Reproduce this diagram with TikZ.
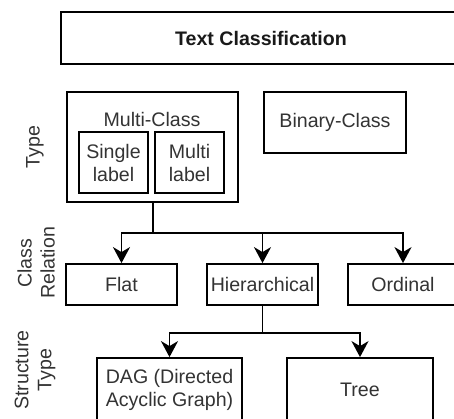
\documentclass[tikz,border=0pt]{standalone}
\usepackage{fontspec}
\setmainfont{Liberation Sans}
\usetikzlibrary{arrows.meta}
\definecolor{txt}{HTML}{333333}
\tikzset{
  box/.style={draw=black, line width=1.8pt, inner sep=0pt, text=txt, align=center,
    font=\fontsize{19.6}{23}\selectfont},
  lab/.style={text=txt, align=center, rotate=90, inner sep=0pt,
    font=\fontsize{19.6}{23}\selectfont},
  conn/.style={line width=1.8pt, draw=black},
  arr/.style={conn, -{Stealth[length=16pt,width=17pt,inset=5pt]}}
}
\begin{document}
\begin{tikzpicture}[x=1pt,y=-1pt]
\useasboundingbox (0,0) rectangle (454,418);
% title
\node[box, minimum width=400pt, minimum height=52pt, font=\fontsize{19.6}{23}\selectfont\bfseries, text=black!90] (tc) at (261,38) {Text Classification};
% type row
\node[box, minimum width=171pt, minimum height=110pt] (mc) at (152.5,147) {};
\node[text=txt, font=\fontsize{19.6}{23}\selectfont, inner sep=0pt] (mct) at (152,119) {Multi-Class};
\node[box, minimum width=69pt, minimum height=61pt] (sl) at (113.5,162.5) {Single\\label};
\node[box, minimum width=69pt, minimum height=61pt] (ml) at (189.5,162.5) {Multi\\label};
\node[box, minimum width=142pt, minimum height=61pt] (bc) at (335,122.5) {Binary-Class};
% class relation row
\node[box, minimum width=111pt, minimum height=41pt] (flat) at (121.5,284.5) {Flat};
\node[box, minimum width=111pt, minimum height=41pt] (hier) at (262.5,284.5) {Hierarchical};
\node[box, minimum width=110pt, minimum height=41pt] (ord) at (403,284.5) {Ordinal};
% structure row
\node[box, minimum width=145pt, minimum height=64pt] (dag) at (169.5,390) {DAG (Directed\\Acyclic Graph)};
\node[box, minimum width=146pt, minimum height=64pt] (tree) at (360,390) {Tree};
% side labels
\node[lab] (lt) at (35,147) {Type};
\node[lab] (lc) at (36,263) {Class\\Relation};
\node[lab] (ls) at (35,370) {Structure\\Type};
% connectors
\coordinate (j1) at (153,233);
\coordinate (j2) at (262.5,333);
\draw[conn] (mc.south -| j1) -- (j1);
\draw[arr] (j1) -| (flat.north);
\draw[arr] (j1) -| (hier.north);
\draw[arr] (j1) -| (ord.north);
\draw[conn] (hier.south) -- (j2);
\draw[arr] (j2) -| (dag.north);
\draw[arr] (j2) -| (tree.north);
\end{tikzpicture}
\end{document}
